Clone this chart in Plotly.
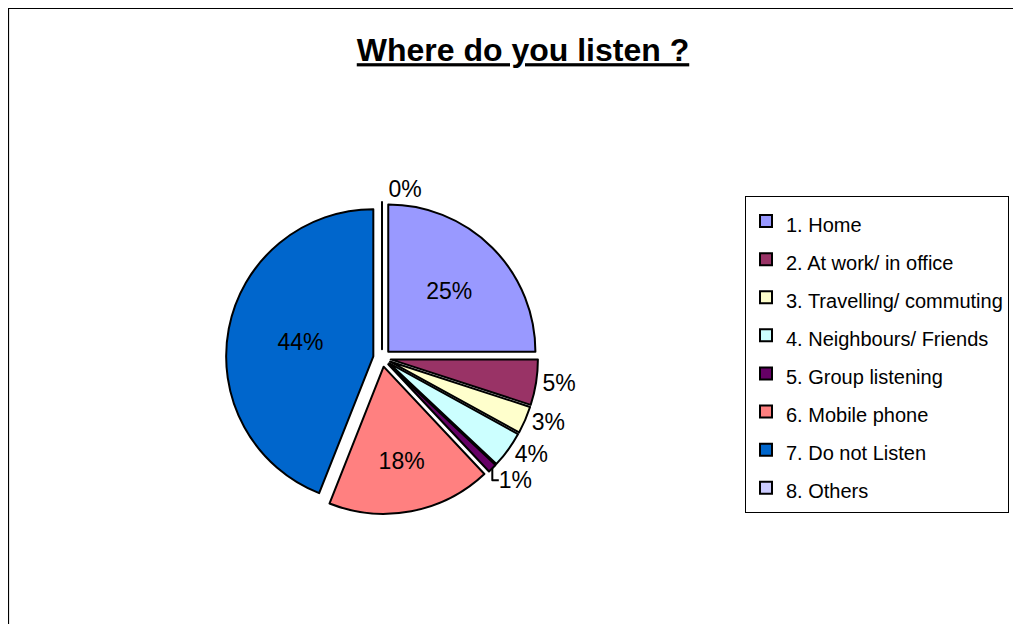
import plotly.graph_objects as go

# survey answers, share of respondents (%)
labels = ["1. Home", "2. At work/ in office", "3. Travelling/ commuting",
          "4. Neighbours/ Friends", "5. Group listening", "6. Mobile phone",
          "7. Do not Listen", "8. Others"]
values = [25, 5, 3, 4, 1, 18, 44, 0]
colors = ["#9999FF", "#993366", "#FFFFCC", "#CCFFFF", "#660066", "#FF8080",
          "#0066CC", "#CCCCFF"]
text_pos = ["inside", "outside", "outside", "outside", "outside", "inside",
            "inside", "outside"]

W, H = 1021, 624
cx, cy, r = 374, 350, 156  # pie centre / outer radius incl. pull, pixels

fig = go.Figure()
fig.add_trace(go.Pie(
    labels=['<span style="font-size:20px">%s</span>' % l for l in labels],
    values=values,
    sort=False, direction='clockwise', rotation=0,
    marker=dict(colors=colors, line=dict(color='black', width=2)),
    pull=0.06,
    texttemplate='%{percent:.0%}',
    textposition=text_pos,
    insidetextorientation='horizontal',
    textfont=dict(family='Liberation Sans, Arial', size=23, color='black'),
    domain=dict(x=[(cx - r) / W, (cx + r) / W],
                y=[1 - (cy + r) / H, 1 - (cy - r) / H]),
    hoverinfo='label+percent',
))

# outer chart border
fig.add_shape(type='rect', xref='paper', yref='paper',
              x0=0.5 / W, x1=1.05, y0=-0.05, y1=1 - 0.5 / H,
              line=dict(color='black', width=1.2))

fig.update_layout(
    width=W, height=H,
    margin=dict(l=0, r=0, t=0, b=0),
    paper_bgcolor='white', plot_bgcolor='white',
    font=dict(family='Liberation Sans, Arial', color='black'),
    title=dict(text='<b><u>Where do you listen ?</u></b>',
               x=515 / W, xanchor='center', y=1 - 42 / H, yanchor='middle',
               font=dict(size=32, color='black')),
    legend=dict(x=737 / W, xanchor='left', y=1 - 188 / H, yanchor='top',
                bordercolor='black', borderwidth=1, bgcolor='white',
                font=dict(size=27, color='black')),
)

fig.write_html("out.html")
